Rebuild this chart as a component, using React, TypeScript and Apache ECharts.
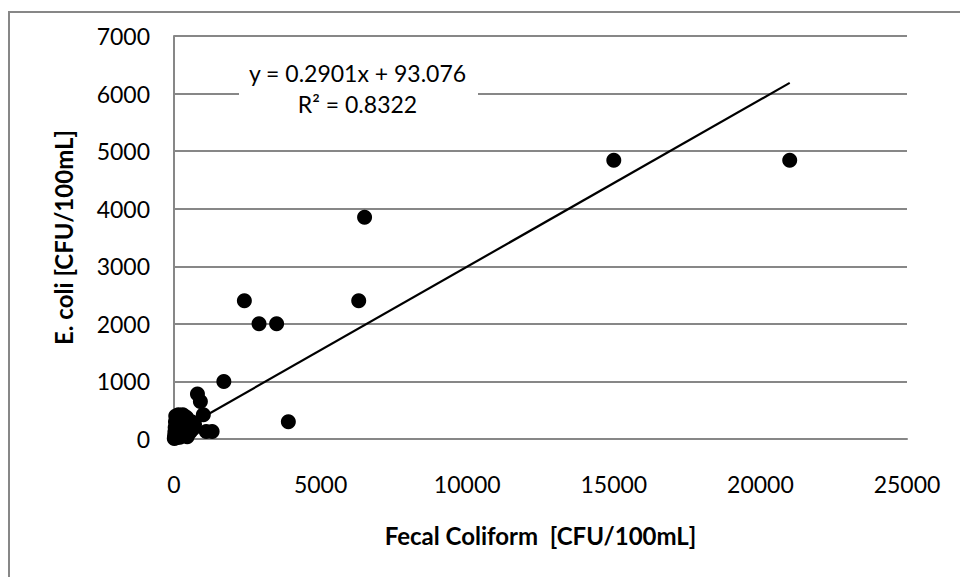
import React, { useEffect, useRef } from "react";
import * as echarts from "echarts";

// Fecal Coliform [CFU/100mL] (x) vs E. coli [CFU/100mL] (y)
const fecalColiform: number[] = [
  21000, 15000, 6500, 6300, 2400, 2900, 3500, 3900, 1700, 800, 900, 1000, 1100, 1300,
  10, 20, 30, 40, 50, 60, 80, 100, 120, 150, 180, 200, 220, 250, 280, 300, 330, 350,
  400, 420, 450, 500, 550, 600, 650, 700,
];
const eColi: number[] = [
  4840, 4840, 3850, 2400, 2400, 2000, 2000, 300, 1000, 780, 650, 420, 130, 130,
  10, 50, 120, 200, 300, 400, 20, 80, 250, 420, 150, 30, 330, 100, 200, 420, 60, 280,
  150, 380, 40, 220, 120, 300, 180, 250,
];

const slope = 0.2901;
const intercept = 93.076;
const equationLines = ["y = 0.2901x + 93.076", "R² = 0.8322"];

const xTicks = { min: 0, max: 25000, interval: 5000 };
const yTicks = { min: 0, max: 7000, interval: 1000 };

export default function App() {
  const ref = useRef<HTMLDivElement>(null);
  useEffect(() => {
    document.body.style.margin = "0";
    const chart = echarts.init(ref.current!, null, { renderer: "svg" });
    const points = fecalColiform.map((x, i) => [x, eColi[i]]);
    const xMin = Math.min(...fecalColiform);
    const xMax = Math.max(...fecalColiform);
    const trend = [
      [xMin, slope * xMin + intercept],
      [xMax, slope * xMax + intercept],
    ];
    const gray = "#878787";
    const plain = (v: number) => String(v);
    chart.setOption({
      animation: false,
      backgroundColor: "#ffffff",
      textStyle: { fontFamily: "Lato" },
      grid: { left: 174, right: 53, top: 36, bottom: 138, containLabel: false },
      xAxis: {
        type: "value",
        ...xTicks,
        name: "Fecal Coliform  [CFU/100mL]",
        nameLocation: "middle",
        nameGap: 84,
        nameTextStyle: { fontFamily: "Lato", fontWeight: "bold", fontSize: 24, color: "#000" },
        axisLine: { show: true, lineStyle: { color: gray, width: 2 } },
        axisTick: { show: false },
        splitLine: { show: false },
        axisLabel: { fontFamily: "Lato", fontSize: 23, color: "#000", margin: 33, formatter: plain },
      },
      yAxis: {
        type: "value",
        ...yTicks,
        name: "E. coli [CFU/100mL]",
        nameLocation: "middle",
        nameGap: 99,
        nameTextStyle: { fontFamily: "Lato", fontWeight: "bold", fontSize: 24, color: "#000" },
        axisLine: { show: true, lineStyle: { color: gray, width: 2 } },
        axisTick: { show: false },
        splitLine: { show: true, lineStyle: { color: gray, width: 2 } },
        axisLabel: { fontFamily: "Lato", fontSize: 23, color: "#000", margin: 24, formatter: plain },
      },
      series: [
        {
          type: "line",
          data: trend,
          symbol: "none",
          lineStyle: { color: "#000", width: 2.2 },
          z: 3,
        },
        {
          type: "scatter",
          data: points,
          symbol: "circle",
          symbolSize: 15,
          itemStyle: { color: "#000", opacity: 1 },
          z: 4,
        },
      ],
      graphic: [
        {
          type: "rect",
          shape: { x: 9, y: 12, width: 1200, height: 1200 },
          style: { fill: "none", stroke: gray, lineWidth: 2 },
          silent: true,
        },
        {
          type: "rect",
          shape: { x: 239, y: 52, width: 239, height: 66 },
          style: { fill: "#ffffff" },
          z: 10,
        },
        {
          type: "text",
          x: 357.5,
          y: 72.5,
          z: 11,
          style: {
            text: equationLines[0],
            fontFamily: "Lato",
            fontSize: 23,
            fill: "#000",
            align: "center",
            verticalAlign: "middle",
          },
        },
        {
          type: "text",
          x: 357.5,
          y: 104,
          z: 11,
          style: {
            text: equationLines[1],
            fontFamily: "Lato",
            fontSize: 23,
            fill: "#000",
            align: "center",
            verticalAlign: "middle",
          },
        },
      ],
    });
    return () => chart.dispose();
  }, []);
  return <div ref={ref} style={{ width: 960, height: 577 }} />;
}
